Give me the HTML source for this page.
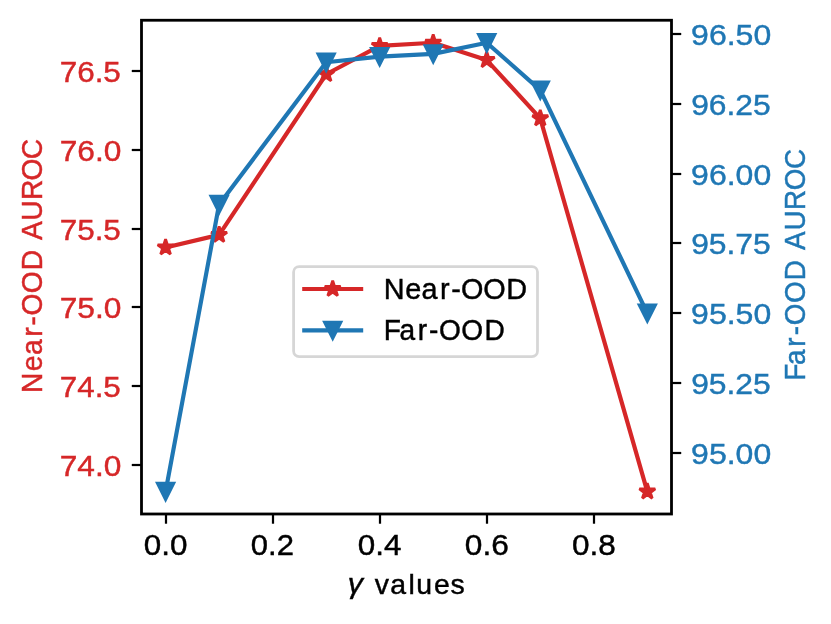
<!DOCTYPE html>
<html lang="en"><head><meta charset="utf-8"><title>Near-OOD / Far-OOD AUROC vs gamma</title>
<style>html,body{margin:0;padding:0;background:#fff;overflow:hidden}svg{display:block;will-change:transform;filter:opacity(1)}text{font-family:"Liberation Sans",sans-serif;font-size:1px;font-kerning:none;white-space:pre}</style></head><body>
<svg width="831" height="624" viewBox="0 0 831 624">
<rect width="831" height="624" fill="#fff"/>
<g id="near-ood" fill="none" stroke="#d62728">
<polyline points="165.59,247.46 219.11,234.87 326.16,74.24 379.69,45.89 433.21,42.74 486.74,60.06 540.26,118.33 647.31,491.56" stroke-width="4.17" stroke-linejoin="round" stroke-linecap="square"/>
<g fill="#d62728" stroke-width="2.78" stroke-linejoin="bevel">
<path d="M165.59,239.13 L163.72,244.89 L157.66,244.89 L162.56,248.45 L160.69,254.21 L165.59,250.65 L170.49,254.21 L168.61,248.45 L173.51,244.89 L167.46,244.89Z"/>
<path d="M219.11,226.53 L217.24,232.29 L211.18,232.29 L216.08,235.85 L214.21,241.61 L219.11,238.05 L224.01,241.61 L222.14,235.85 L227.04,232.29 L220.98,232.29Z"/>
<path d="M326.16,65.90 L324.29,71.66 L318.24,71.66 L323.13,75.22 L321.26,80.98 L326.16,77.42 L331.06,80.98 L329.19,75.22 L334.09,71.66 L328.03,71.66Z"/>
<path d="M379.69,37.56 L377.82,43.31 L371.76,43.31 L376.66,46.87 L374.79,52.63 L379.69,49.07 L384.59,52.63 L382.72,46.87 L387.61,43.31 L381.56,43.31Z"/>
<path d="M433.21,34.41 L431.34,40.17 L425.29,40.17 L430.18,43.72 L428.31,49.48 L433.21,45.92 L438.11,49.48 L436.24,43.72 L441.14,40.17 L435.08,40.17Z"/>
<path d="M486.74,51.73 L484.87,57.49 L478.81,57.49 L483.71,61.05 L481.84,66.81 L486.74,63.25 L491.64,66.81 L489.77,61.05 L494.66,57.49 L488.61,57.49Z"/>
<path d="M540.26,110.00 L538.39,115.76 L532.34,115.76 L537.24,119.32 L535.36,125.07 L540.26,121.52 L545.16,125.07 L543.29,119.32 L548.19,115.76 L542.13,115.76Z"/>
<path d="M647.31,483.22 L645.44,488.98 L639.39,488.98 L644.29,492.54 L642.41,498.30 L647.31,494.74 L652.21,498.30 L650.34,492.54 L655.24,488.98 L649.18,488.98Z"/>
</g></g>
<g id="far-ood" fill="none" stroke="#1f77b4">
<polyline points="165.59,491.56 219.11,204.43 326.16,62.25 379.69,56.68 433.21,53.89 486.74,42.74 540.26,90.13 647.31,313.15" stroke-width="4.17" stroke-linejoin="round" stroke-linecap="square"/>
<g fill="#1f77b4" stroke-width="2.78" stroke-linejoin="miter" stroke-miterlimit="10">
<path d="M165.59,499.89 L157.25,483.22 L173.92,483.22Z"/>
<path d="M219.11,212.76 L210.78,196.09 L227.45,196.09Z"/>
<path d="M326.16,70.59 L317.83,53.92 L334.50,53.92Z"/>
<path d="M379.69,65.01 L371.35,48.34 L388.02,48.34Z"/>
<path d="M433.21,62.23 L424.88,45.56 L441.55,45.56Z"/>
<path d="M486.74,51.08 L478.40,34.41 L495.07,34.41Z"/>
<path d="M540.26,98.47 L531.93,81.80 L548.60,81.80Z"/>
<path d="M647.31,321.48 L638.98,304.81 L655.65,304.81Z"/>
</g></g>
<g id="axes" stroke="#000" fill="none">
<rect x="141.5" y="20.25" width="530.0" height="493.75" stroke-width="2.8" stroke-linejoin="miter"/>
<g stroke-width="2.22">
<line x1="131.78" x2="141.5" y1="71" y2="71"/>
<line x1="131.78" x2="141.5" y1="150" y2="150"/>
<line x1="131.78" x2="141.5" y1="229" y2="229"/>
<line x1="131.78" x2="141.5" y1="307" y2="307"/>
<line x1="131.78" x2="141.5" y1="386" y2="386"/>
<line x1="131.78" x2="141.5" y1="465" y2="465"/>
<line x1="671.5" x2="681.22" y1="34" y2="34"/>
<line x1="671.5" x2="681.22" y1="104" y2="104"/>
<line x1="671.5" x2="681.22" y1="174" y2="174"/>
<line x1="671.5" x2="681.22" y1="243" y2="243"/>
<line x1="671.5" x2="681.22" y1="313" y2="313"/>
<line x1="671.5" x2="681.22" y1="383" y2="383"/>
<line x1="671.5" x2="681.22" y1="453" y2="453"/>
<line x1="166" x2="166" y1="514.0" y2="523.72"/>
<line x1="273" x2="273" y1="514.0" y2="523.72"/>
<line x1="380" x2="380" y1="514.0" y2="523.72"/>
<line x1="487" x2="487" y1="514.0" y2="523.72"/>
<line x1="594" x2="594" y1="514.0" y2="523.72"/>
</g></g>
<g id="left-tick-labels">
<text transform="translate(59.70,81.61) scale(31.4171,29.8019)" fill="#d62728" stroke="#d62728" stroke-width="0.0147">76.5</text>
<text transform="translate(59.69,160.61) scale(31.6877,29.8019)" fill="#d62728" stroke="#d62728" stroke-width="0.0146">76.0</text>
<text transform="translate(59.70,239.60) scale(31.4171,30.2399)" fill="#d62728" stroke="#d62728" stroke-width="0.0146">75.5</text>
<text transform="translate(59.69,317.61) scale(31.6877,29.8019)" fill="#d62728" stroke="#d62728" stroke-width="0.0146">75.0</text>
<text transform="translate(59.70,396.60) scale(31.4171,30.2399)" fill="#d62728" stroke="#d62728" stroke-width="0.0146">74.5</text>
<text transform="translate(59.69,475.61) scale(31.6877,29.8019)" fill="#d62728" stroke="#d62728" stroke-width="0.0146">74.0</text>
</g><g id="right-tick-labels">
<text transform="translate(691.12,44.61) scale(32.0112,29.8019)" fill="#1f77b4" stroke="#1f77b4" stroke-width="0.0146">96.50</text>
<text transform="translate(691.13,114.61) scale(31.8039,29.8019)" fill="#1f77b4" stroke="#1f77b4" stroke-width="0.0146">96.25</text>
<text transform="translate(691.12,184.61) scale(32.0112,29.8019)" fill="#1f77b4" stroke="#1f77b4" stroke-width="0.0146">96.00</text>
<text transform="translate(691.13,253.61) scale(31.8039,29.8019)" fill="#1f77b4" stroke="#1f77b4" stroke-width="0.0146">95.75</text>
<text transform="translate(691.12,323.61) scale(32.0112,29.8019)" fill="#1f77b4" stroke="#1f77b4" stroke-width="0.0146">95.50</text>
<text transform="translate(691.13,393.61) scale(31.8039,29.8019)" fill="#1f77b4" stroke="#1f77b4" stroke-width="0.0146">95.25</text>
<text transform="translate(691.12,463.61) scale(32.0112,29.8019)" fill="#1f77b4" stroke="#1f77b4" stroke-width="0.0146">95.00</text>
</g><g id="x-tick-labels">
<text transform="translate(143.72,554.91) scale(31.4491,29.3782)" fill="#000" stroke="#000" stroke-width="0.0148">0.0</text>
<text transform="translate(250.79,554.91) scale(30.9877,29.3782)" fill="#000" stroke="#000" stroke-width="0.0149">0.2</text>
<text transform="translate(357.82,554.91) scale(31.4363,29.3782)" fill="#000" stroke="#000" stroke-width="0.0148">0.4</text>
<text transform="translate(464.86,554.91) scale(31.6406,29.3782)" fill="#000" stroke="#000" stroke-width="0.0148">0.6</text>
<text transform="translate(571.92,554.91) scale(31.5125,29.3782)" fill="#000" stroke="#000" stroke-width="0.0148">0.8</text>
</g>
<g id="x-label">
<text transform="translate(347.85,592.92) scale(30.4158,28.4218)" fill="#000" stroke="#000" stroke-width="0.0153" font-style="italic">γ</text>
<text transform="translate(374.80,593.73) scale(28.4313,27.7778)" x="0.0000 0.5426 1.1837 1.4626 2.0806 2.6594" fill="#000" stroke="#000" stroke-width="0.0160">values</text>
</g>
<g id="y-labels">
<text transform="translate(42.00,392.92) rotate(-90) scale(28.2574,29.3605)" x="0.0000 0.7649 1.3412 1.9873 2.3887 2.7414 3.5297 4.3395 5.0837 5.4109 6.0926 6.8240 7.5216 8.2653" fill="#d62728" stroke="#d62728" stroke-width="0.0156">Near-OOD AUROC</text>
<text transform="translate(804.75,380.58) rotate(-90) scale(27.8223,29.2878)" x="0.0000 0.5640 1.2166 1.6258 1.9875 2.7881 3.6104 4.3603 4.6978 5.3906 6.1337 6.8424 7.6024" fill="#1f77b4" stroke="#1f77b4" stroke-width="0.0158">Far-OOD AUROC</text>
</g>
<g id="legend">
<rect x="293.6" y="266.6" width="243.90" height="90.00" rx="5.5" ry="5.5" fill="#fff" fill-opacity="0.8" stroke="#ccc" stroke-opacity="0.8" stroke-width="2.78"/>
<line x1="302.2" x2="363.2" y1="289.0" y2="289.0" stroke="#d62728" stroke-width="4.17"/>
<path d="M332.70,280.67 L330.83,286.42 L324.77,286.42 L329.67,289.98 L327.80,295.74 L332.70,292.18 L337.60,295.74 L335.73,289.98 L340.63,286.42 L334.57,286.42Z" fill="#d62728" stroke="#d62728" stroke-width="2.78" stroke-linejoin="bevel"/>
<line x1="302.2" x2="363.2" y1="330.4" y2="330.4" stroke="#1f77b4" stroke-width="4.17"/>
<path d="M332.70,338.73 L324.37,322.06 L341.03,322.06Z" fill="#1f77b4" stroke="#1f77b4" stroke-width="2.78" stroke-linejoin="miter" stroke-miterlimit="10"/>
<text transform="translate(383.74,298.80) scale(28.8191,28.7791)" x="0.0000 0.7462 1.3108 1.9489 2.3405 2.6820 3.4549 4.2539" fill="#000" stroke="#000" stroke-width="0.0156">Near-OOD</text>
<text transform="translate(383.80,339.50) scale(28.0760,28.6337)" x="0.0000 0.5569 1.2057 1.6103 1.9667 2.7601 3.5878" fill="#000" stroke="#000" stroke-width="0.0159">Far-OOD</text>
</g>
</svg></body></html>
